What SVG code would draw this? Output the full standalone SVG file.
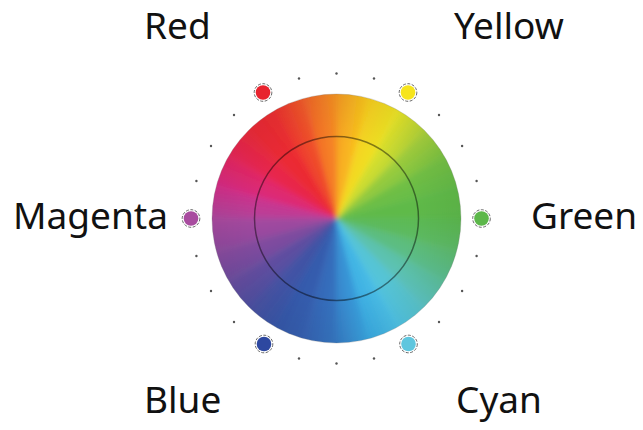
<svg xmlns="http://www.w3.org/2000/svg" width="643" height="430" viewBox="0 0 643 430">
<style>
.lbl{font-family:"Noto Sans","Open Sans","DejaVu Sans",sans-serif;font-size:37px;fill:#111}
.dot{fill:#555}
.ring{fill:none;stroke:#444;stroke-width:1;stroke-dasharray:3 1.5;opacity:0.8}
</style>
<defs>
<clipPath id="wc"><circle cx="336.5" cy="218.5" r="124.5"/></clipPath>
<filter id="soft" x="-20%" y="-20%" width="140%" height="140%"><feGaussianBlur stdDeviation="2.8"/></filter>
<linearGradient id="g0" gradientUnits="userSpaceOnUse" x1="471.5" y1="218.5" x2="466.9" y2="183.56"><stop offset="0" stop-color="#5cb94c"/><stop offset="1" stop-color="#62bb48"/></linearGradient>
<linearGradient id="g1" gradientUnits="userSpaceOnUse" x1="466.9" y1="183.56" x2="453.41" y2="151"><stop offset="0" stop-color="#62bb48"/><stop offset="1" stop-color="#78c243"/></linearGradient>
<linearGradient id="g2" gradientUnits="userSpaceOnUse" x1="453.41" y1="151" x2="431.96" y2="123.04"><stop offset="0" stop-color="#78c243"/><stop offset="1" stop-color="#aed23a"/></linearGradient>
<linearGradient id="g3" gradientUnits="userSpaceOnUse" x1="431.96" y1="123.04" x2="404" y2="101.59"><stop offset="0" stop-color="#aed23a"/><stop offset="1" stop-color="#ece626"/></linearGradient>
<linearGradient id="g4" gradientUnits="userSpaceOnUse" x1="404" y1="101.59" x2="371.44" y2="88.1"><stop offset="0" stop-color="#ece626"/><stop offset="1" stop-color="#f9cc1e"/></linearGradient>
<linearGradient id="g5" gradientUnits="userSpaceOnUse" x1="371.44" y1="88.1" x2="336.5" y2="83.5"><stop offset="0" stop-color="#f9cc1e"/><stop offset="1" stop-color="#f79722"/></linearGradient>
<linearGradient id="g6" gradientUnits="userSpaceOnUse" x1="336.5" y1="83.5" x2="301.56" y2="88.1"><stop offset="0" stop-color="#f79722"/><stop offset="1" stop-color="#f2612a"/></linearGradient>
<linearGradient id="g7" gradientUnits="userSpaceOnUse" x1="301.56" y1="88.1" x2="269" y2="101.59"><stop offset="0" stop-color="#f2612a"/><stop offset="1" stop-color="#ec2e2f"/></linearGradient>
<linearGradient id="g8" gradientUnits="userSpaceOnUse" x1="269" y1="101.59" x2="241.04" y2="123.04"><stop offset="0" stop-color="#ec2e2f"/><stop offset="1" stop-color="#ea2a38"/></linearGradient>
<linearGradient id="g9" gradientUnits="userSpaceOnUse" x1="241.04" y1="123.04" x2="219.59" y2="151"><stop offset="0" stop-color="#ea2a38"/><stop offset="1" stop-color="#e6265c"/></linearGradient>
<linearGradient id="g10" gradientUnits="userSpaceOnUse" x1="219.59" y1="151" x2="206.1" y2="183.56"><stop offset="0" stop-color="#e6265c"/><stop offset="1" stop-color="#d62d88"/></linearGradient>
<linearGradient id="g11" gradientUnits="userSpaceOnUse" x1="206.1" y1="183.56" x2="201.5" y2="218.5"><stop offset="0" stop-color="#d62d88"/><stop offset="1" stop-color="#ac489f"/></linearGradient>
<linearGradient id="g12" gradientUnits="userSpaceOnUse" x1="201.5" y1="218.5" x2="206.1" y2="253.44"><stop offset="0" stop-color="#ac489f"/><stop offset="1" stop-color="#8d4b9f"/></linearGradient>
<linearGradient id="g13" gradientUnits="userSpaceOnUse" x1="206.1" y1="253.44" x2="219.59" y2="286"><stop offset="0" stop-color="#8d4b9f"/><stop offset="1" stop-color="#6c4d9f"/></linearGradient>
<linearGradient id="g14" gradientUnits="userSpaceOnUse" x1="219.59" y1="286" x2="241.04" y2="313.96"><stop offset="0" stop-color="#6c4d9f"/><stop offset="1" stop-color="#4d50a2"/></linearGradient>
<linearGradient id="g15" gradientUnits="userSpaceOnUse" x1="241.04" y1="313.96" x2="269" y2="335.41"><stop offset="0" stop-color="#4d50a2"/><stop offset="1" stop-color="#3656a8"/></linearGradient>
<linearGradient id="g16" gradientUnits="userSpaceOnUse" x1="269" y1="335.41" x2="301.56" y2="348.9"><stop offset="0" stop-color="#3656a8"/><stop offset="1" stop-color="#3561b2"/></linearGradient>
<linearGradient id="g17" gradientUnits="userSpaceOnUse" x1="301.56" y1="348.9" x2="336.5" y2="353.5"><stop offset="0" stop-color="#3561b2"/><stop offset="1" stop-color="#3679c4"/></linearGradient>
<linearGradient id="g18" gradientUnits="userSpaceOnUse" x1="336.5" y1="353.5" x2="371.44" y2="348.9"><stop offset="0" stop-color="#3679c4"/><stop offset="1" stop-color="#38a8e2"/></linearGradient>
<linearGradient id="g19" gradientUnits="userSpaceOnUse" x1="371.44" y1="348.9" x2="404" y2="335.41"><stop offset="0" stop-color="#38a8e2"/><stop offset="1" stop-color="#4ec3e6"/></linearGradient>
<linearGradient id="g20" gradientUnits="userSpaceOnUse" x1="404" y1="335.41" x2="431.96" y2="313.96"><stop offset="0" stop-color="#4ec3e6"/><stop offset="1" stop-color="#5cc4c6"/></linearGradient>
<linearGradient id="g21" gradientUnits="userSpaceOnUse" x1="431.96" y1="313.96" x2="453.41" y2="286"><stop offset="0" stop-color="#5cc4c6"/><stop offset="1" stop-color="#5cbf96"/></linearGradient>
<linearGradient id="g22" gradientUnits="userSpaceOnUse" x1="453.41" y1="286" x2="466.9" y2="253.44"><stop offset="0" stop-color="#5cbf96"/><stop offset="1" stop-color="#5dbb6a"/></linearGradient>
<linearGradient id="g23" gradientUnits="userSpaceOnUse" x1="466.9" y1="253.44" x2="471.5" y2="218.5"><stop offset="0" stop-color="#5dbb6a"/><stop offset="1" stop-color="#5cb94c"/></linearGradient>
<radialGradient id="shade" cx="336.5" cy="218.5" r="124.5" gradientUnits="userSpaceOnUse"><stop offset="0.6" stop-color="#000" stop-opacity="0"/><stop offset="1" stop-color="#000" stop-opacity="0.05"/></radialGradient>
</defs>
<rect width="643" height="430" fill="#fff"/>
<g id="wheel">
<g clip-path="url(#wc)">
<g filter="url(#soft)" stroke-width="0.6">
<polygon points="336.5,218.5 471.5,218.5 466.9,183.56" fill="url(#g0)" stroke="url(#g0)"/>
<polygon points="336.5,218.5 466.9,183.56 453.41,151" fill="url(#g1)" stroke="url(#g1)"/>
<polygon points="336.5,218.5 453.41,151 431.96,123.04" fill="url(#g2)" stroke="url(#g2)"/>
<polygon points="336.5,218.5 431.96,123.04 404,101.59" fill="url(#g3)" stroke="url(#g3)"/>
<polygon points="336.5,218.5 404,101.59 371.44,88.1" fill="url(#g4)" stroke="url(#g4)"/>
<polygon points="336.5,218.5 371.44,88.1 336.5,83.5" fill="url(#g5)" stroke="url(#g5)"/>
<polygon points="336.5,218.5 336.5,83.5 301.56,88.1" fill="url(#g6)" stroke="url(#g6)"/>
<polygon points="336.5,218.5 301.56,88.1 269,101.59" fill="url(#g7)" stroke="url(#g7)"/>
<polygon points="336.5,218.5 269,101.59 241.04,123.04" fill="url(#g8)" stroke="url(#g8)"/>
<polygon points="336.5,218.5 241.04,123.04 219.59,151" fill="url(#g9)" stroke="url(#g9)"/>
<polygon points="336.5,218.5 219.59,151 206.1,183.56" fill="url(#g10)" stroke="url(#g10)"/>
<polygon points="336.5,218.5 206.1,183.56 201.5,218.5" fill="url(#g11)" stroke="url(#g11)"/>
<polygon points="336.5,218.5 201.5,218.5 206.1,253.44" fill="url(#g12)" stroke="url(#g12)"/>
<polygon points="336.5,218.5 206.1,253.44 219.59,286" fill="url(#g13)" stroke="url(#g13)"/>
<polygon points="336.5,218.5 219.59,286 241.04,313.96" fill="url(#g14)" stroke="url(#g14)"/>
<polygon points="336.5,218.5 241.04,313.96 269,335.41" fill="url(#g15)" stroke="url(#g15)"/>
<polygon points="336.5,218.5 269,335.41 301.56,348.9" fill="url(#g16)" stroke="url(#g16)"/>
<polygon points="336.5,218.5 301.56,348.9 336.5,353.5" fill="url(#g17)" stroke="url(#g17)"/>
<polygon points="336.5,218.5 336.5,353.5 371.44,348.9" fill="url(#g18)" stroke="url(#g18)"/>
<polygon points="336.5,218.5 371.44,348.9 404,335.41" fill="url(#g19)" stroke="url(#g19)"/>
<polygon points="336.5,218.5 404,335.41 431.96,313.96" fill="url(#g20)" stroke="url(#g20)"/>
<polygon points="336.5,218.5 431.96,313.96 453.41,286" fill="url(#g21)" stroke="url(#g21)"/>
<polygon points="336.5,218.5 453.41,286 466.9,253.44" fill="url(#g22)" stroke="url(#g22)"/>
<polygon points="336.5,218.5 466.9,253.44 471.5,218.5" fill="url(#g23)" stroke="url(#g23)"/>
</g>
<circle cx="336.5" cy="218.5" r="124.5" fill="url(#shade)"/>
</g>
<circle cx="336.5" cy="218.5" r="124.5" fill="none" stroke="#777" stroke-opacity="0.35" stroke-width="0.8"/>
<circle cx="336.5" cy="218.5" r="82" fill="none" stroke="#000" stroke-opacity="0.45" stroke-width="1.5"/>
</g>
<g id="ticks">
<circle class="dot" cx="476.6" cy="181" r="1.2"/>
<circle class="dot" cx="462.1" cy="146" r="1.2"/>
<circle class="dot" cx="439" cy="115" r="1.2"/>
<circle class="dot" cx="374" cy="78.5" r="1.2"/>
<circle class="dot" cx="336.5" cy="73.5" r="1.2"/>
<circle class="dot" cx="299" cy="78.5" r="1.2"/>
<circle class="dot" cx="234" cy="115" r="1.2"/>
<circle class="dot" cx="211" cy="146" r="1.2"/>
<circle class="dot" cx="196.4" cy="181" r="1.2"/>
<circle class="dot" cx="196.4" cy="256" r="1.2"/>
<circle class="dot" cx="211" cy="291" r="1.2"/>
<circle class="dot" cx="234" cy="322" r="1.2"/>
<circle class="dot" cx="299" cy="358.5" r="1.2"/>
<circle class="dot" cx="336.5" cy="363.5" r="1.2"/>
<circle class="dot" cx="374" cy="358.5" r="1.2"/>
<circle class="dot" cx="439" cy="322" r="1.2"/>
<circle class="dot" cx="462.1" cy="291" r="1.2"/>
<circle class="dot" cx="476.6" cy="256" r="1.2"/>
</g>
<g id="red"><circle cx="263" cy="92.5" r="7.3" fill="#e8232e"/><circle class="ring" cx="263" cy="92.5" r="8.8"/><text class="lbl" x="144" y="39">Red</text></g>
<g id="yellow"><circle cx="408" cy="92.5" r="7.3" fill="#f6e41c"/><circle class="ring" cx="408" cy="92.5" r="8.8"/><text class="lbl" x="454" y="39">Yellow</text></g>
<g id="green"><circle cx="481.5" cy="218.5" r="7.3" fill="#5cb74a"/><circle class="ring" cx="481.5" cy="218.5" r="8.8"/><text class="lbl" x="531" y="229">Green</text></g>
<g id="cyan"><circle cx="408.5" cy="344" r="7.3" fill="#5fc6de"/><circle class="ring" cx="408.5" cy="344" r="8.8"/><text class="lbl" x="456" y="413">Cyan</text></g>
<g id="blue"><circle cx="264" cy="344" r="7.3" fill="#2d48a0"/><circle class="ring" cx="264" cy="344" r="8.8"/><text class="lbl" x="144" y="413">Blue</text></g>
<g id="magenta"><circle cx="191" cy="218.5" r="7.3" fill="#a84c9f"/><circle class="ring" cx="191" cy="218.5" r="8.8"/><text class="lbl" x="13" y="229">Magenta</text></g>
</svg>
